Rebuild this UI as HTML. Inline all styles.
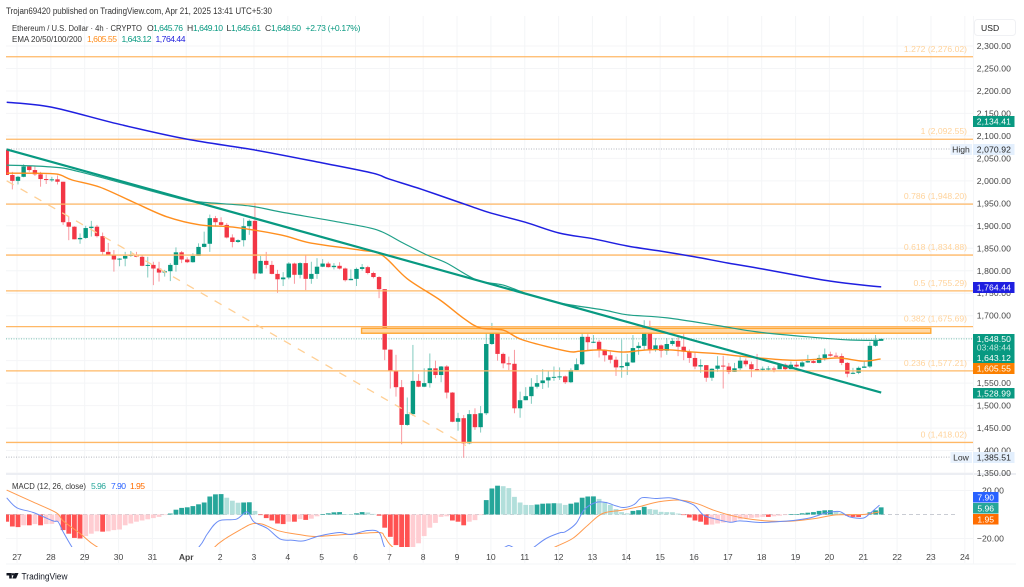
<!DOCTYPE html>
<html lang="en">
<head>
<meta charset="utf-8">
<title>Ethereum / U.S. Dollar 4h chart</title>
<style>
html,body{margin:0;padding:0;background:#fff;width:1024px;height:587px;overflow:hidden}
svg{display:block;font-family:"Liberation Sans",sans-serif}
text{font-family:"Liberation Sans",sans-serif}
</style>
</head>
<body>
<svg id="chart" xmlns="http://www.w3.org/2000/svg" width="1024" height="587" viewBox="0 0 1024 587">
  <defs>
    <clipPath id="mainClip"><rect x="6" y="16" width="967" height="457"/></clipPath>
    <clipPath id="macdClip"><rect x="6" y="476" width="967" height="71"/></clipPath>
  </defs>
  <g id="grid"></g>
  <g id="panes">
    <rect x="6" y="473" width="1010" height="2" fill="#eceef3"/>
    <rect x="6" y="563.5" width="1010" height="1" fill="#f3f4f7"/>
    <rect x="973" y="16" width="1" height="548" fill="#f5f6f8"/>
  </g>
  <g id="main" clip-path="url(#mainClip)"></g>
  <g id="macd" clip-path="url(#macdClip)"></g>
  <g id="axes"></g>

  <text x="6" y="14" font-size="8.9" fill="#333" textLength="266" lengthAdjust="spacingAndGlyphs">Trojan69420 published on TradingView.com, Apr 21, 2025 13:41 UTC+5:30</text>

  <g font-size="8.6">
    <text x="12" y="31" fill="#333" textLength="130" lengthAdjust="spacingAndGlyphs">Ethereum / U.S. Dollar · 4h · CRYPTO</text>
    <text x="147" y="31" fill="#333">O</text>
    <text x="153" y="31" fill="#089981" textLength="30">1,645.76</text>
    <text x="187" y="31" fill="#333">H</text>
    <text x="193" y="31" fill="#089981" textLength="30">1,649.10</text>
    <text x="226.500" y="31" fill="#333">L</text>
    <text x="231" y="31" fill="#089981" textLength="30">1,645.61</text>
    <text x="265" y="31" fill="#333">C</text>
    <text x="271" y="31" fill="#089981" textLength="30">1,648.50</text>
    <text x="305.500" y="31" fill="#089981" textLength="55">+2.73 (+0.17%)</text>
    <text x="12" y="42" fill="#333" textLength="70" lengthAdjust="spacingAndGlyphs">EMA 20/50/100/200</text>
    <text x="87" y="42" fill="#ff8c1a" textLength="30">1,605.55</text>
    <text x="121.500" y="42" fill="#089981" textLength="30">1,643.12</text>
    <text x="155.500" y="42" fill="#2222dd" textLength="30">1,764.44</text>
  </g>

  <g font-size="8.600">
    <text x="12" y="489" fill="#333" textLength="74" lengthAdjust="spacingAndGlyphs">MACD (12, 26, close)</text>
    <text x="91" y="489" fill="#26a69a" textLength="15">5.96</text>
    <text x="111" y="489" fill="#2962ff" textLength="15">7.90</text>
    <text x="130" y="489" fill="#ff6d00" textLength="15">1.95</text>
  </g>

  <g>
    <rect x="974.500" y="19.500" width="41" height="16" rx="3" fill="#fff" stroke="#f0f1f4"/>
    <text x="981" y="31" font-size="8.600" fill="#222">USD</text>
  </g>

  <g>
    <path d="M6.500 573h5.300v5.500h-2.600v-3h-2.700z M14.500 573h4l-2.400 5.500h-3.800z" fill="#131722"/>
    <circle cx="13" cy="574.300" r="1.200" fill="#131722"/>
    <text x="21.500" y="579.500" font-size="8.800" fill="#131722" textLength="46" lengthAdjust="spacingAndGlyphs">TradingView</text>
  </g>
</svg>

<script>
// ---------- Data ----------
const firstOpen = 2069;
const closes = [2013,2000,2009,2032,2024,2014.5,2004,2003,2003.4,1998,
1908,1898,1870,1873,1895,1898,1877,1842,1836,1825,
1827,1833,1836,1831,1811,1813,1805,1796,1799,1813,
1841,1825,1819,1833,1853,1860,1917,1908,1902,1874,
1864,1868,1899,1911,1794,1822,1813,1793,1781,1785,
1816,1791,1817,1782,1793,1809,1816,1808,1811,1805,
1779,1782,1804,1808,1795,1786,1759,1624.5,1578,1541,
1457,1481,1555,1542,1550,1583,1568,1587,1529,1464,
1472,1416,1481,1452,1483,1637,1667,1615,1594,1593,
1494,1512,1521,1542,1550,1556,1563,1564,1565,1552,
1579,1592,1653,1641,1642,1624,1612,1602,1585,1588,
1596,1628,1633,1674,1625,1634,1622,1637,1644,1631,
1620,1606,1587,1590,1562,1582,1589,1587,1575,1583,
1600,1592,1581,1580,1582,1582.5,1581,1591,1581,1591,
1587,1596,1599,1595,1606,1614,1611,1610,1595,1571,
1573,1584,1587,1633,1644,1648.5];
const highs = [2069,2020,2011,2037,2033,2034,2020,2014,2009,2012,
1998,1920,1899,1883,1900,1911,1902,1885,1862,1846,
1828,1842,1844,1842,1835,1831,1820,1820,1802,1817,
1852,1844,1830,1839,1861,1887,1925,1922,1919,1906,
1881,1870,1917,1914,1951,1833,1842,1822,1802,1797,
1819,1818,1819,1834,1820,1828,1826,1820,1817,1819,
1807,1803,1807,1815,1811,1798,1788,1759,1625,1613,
1557,1518,1635,1570,1583,1616,1600,1588,1590,1530,
1484,1479,1490,1494,1499,1668,1684,1670,1618,1609,
1624,1531,1541,1561,1568,1581,1578,1587,1585,1567,
1583,1605,1666,1659,1657,1646,1625,1620,1609,1647,
1615,1657,1641,1690,1689,1650,1636,1650,1650,1653,
1659,1625,1620,1603,1590,1583,1610,1611,1595,1595,
1610,1605,1598,1615,1587,1588,1587,1594,1594,1598,
1598,1599,1613,1603,1613,1627,1620,1618,1616,1597,
1584,1587,1598,1642,1657,1649.1];
const lows = [2013,1981,1992,2008,2020,2011,1987,1993,1998,1992,
1902,1868,1870,1860,1871,1876,1874,1834,1834,1798,
1810,1810,1831,1830,1810,1785,1768,1776,1787,1777,
1798,1817,1817,1818,1833,1852,1842,1898,1898,1872,
1852,1862,1854,1880,1781,1793,1805,1792,1751,1766,
1781,1771,1783,1757,1771,1782,1808,1807,1803,1803,
1776,1779,1766,1800,1792,1783,1739,1601,1538,1520,
1414,1455,1477,1541,1541,1540,1561,1552,1516,1463,
1444,1384,1414,1446,1440,1479,1635,1600,1583,1579,
1483,1473,1512,1504,1538,1537,1540,1555,1557,1548,
1550,1579,1590,1622,1639,1607,1598,1594,1566,1562,
1568,1595,1613,1624,1616,1620,1607,1613,1633,1610,
1601,1595,1581,1573,1553,1555,1575,1538,1570,1575,
1579,1587,1563,1578,1578,1577,1574,1581,1579,1581,
1585,1585,1595,1594,1594,1600,1609,1609,1590,1563,
1570,1570,1585,1584,1631,1645.6];

const ema20Bars = [1,5.7,9.9,12.6,17.5,23.4,29.4,35.3,41.1,49.5,54.8,63.6,67.5,72,77.8,81.9,84.9,89,92.5,100.3,102.6,106.2,110.3,114.5,118.6,122.7,127.5,131,139.9,145.7,148.7,152.8,155.9];
const ema20Values = [2017,2017,2015,2002,1986,1953,1920,1902,1897,1880,1862,1846,1835,1782,1735,1695,1673,1668,1646,1621,1621,1624,1619,1624,1624,1619,1615,1610,1601,1604,1606,1599,1604];
const ema50Bars = [1,8.7,14,31.2,35.3,44.1,49.5,60,66.6,71.2,75.5,79,84.4,89,93.8,99.1,106.7,111,118.1,127.5,134,143,150.5,156];
const ema50Values = [2035,2031,2020,1962,1953,1944,1931,1908,1891,1862,1835,1817,1779,1768,1746,1728,1713,1702,1695,1677,1664,1653,1646,1645];
const ema200Bars = [1,8.9,20.9,32.8,44.8,56.9,65.9,68.8,74.8,80.8,83.8,86.9,92.9,98.9,105,111,116.8,122.9,128.9,135,141,147,152.8,156];
const ema200Values = [2175,2164,2126,2093,2069,2040,2017,2004,1980,1954,1941,1928,1908,1884,1871,1855,1844,1831,1817,1804,1790,1777,1768,1764];

const trendBars = [1,156];
const trendValues = [2070,1529];
const fibDashBars = [1,82.4];
const fibDashValues = [2000,1411];
const zoneBars = [63.9,164.8];
const zoneValues = [1672,1661];

const fibRatios = ["1.272","1","0.786","0.618","0.5","0.382","0.236","0"];
const fibPrices = [2276.02,2092.55,1948.20,1834.88,1755.29,1675.69,1577.21,1418.02];
const fibPriceLabels = ["2,276.02","2,092.55","1,948.20","1,834.88","1,755.29","1,675.69","1,577.21","1,418.02"];

const macdHistogram = [-6,-10,-10.5,-9,-9,-8,-9,-8,-7.8,-6,
-13,-16,-19.5,-20,-18,-16,-14,-14.3,-14,-13,
-12.5,-9,-7.5,-6,-5,-4,-3,-2,-0.5,0.8,
4,5.5,6,7,8.5,10,15,16.8,17,14,
11.5,9.8,10,10.2,3,-0.3,-3,-5,-7.5,-8,
-6,-6,-3.8,-4.5,-3.5,-1.5,0.4,1,1.8,2,
0.3,0.2,1,2,1.7,0.5,-1,-11,-18.6,-25.5,
-30,-32,-28,-24,-18,-11,-7,-2,-1.5,-5,
-6,-9,-6,-4.7,-0.5,12,21.7,24,23.6,22,
14.7,10,8,7.9,8.3,9,9.2,9.4,9.3,8,
9,10,14,15,15.1,13,10.5,8,4.5,2,
1,3,3.6,6.4,4.5,4,2.2,2,1.9,0.8,
-0.3,-2.5,-5,-6,-8.5,-8.4,-7.5,-6.7,-6.4,-6,
-4,-3,-2.8,-2.5,-2,-2,-1.5,-1,-0.3,0.3,
0.3,1,1.5,2,3,3.5,3.6,2.2,1,-1,
-2,-2.1,-0.5,1.8,3.5,5.96];
const macdBars = [1,2.8,5.7,9.2,10.1,11,12.6,15,20,25,30,35,36.6,38.6,41.7,43.6,44.8,47.2,49.5,51.6,53.6,56.3,60,62,65,67,68,70,75,80,85,88,89.2,90,90.8,93,94.4,96.6,99,100,101.9,103.4,105.4,107.2,109,110.4,112.2,113.6,116,118.4,120.4,122.8,124.5,126.3,129.2,131,134.5,137.5,140.4,143.4,146.3,148.6,150.4,152.8,154,155.7];
const macdValues = [13.9,5.6,1.7,-5.3,-6,-14.4,-27.5,-45,-60,-60,-50,-27.5,-15.8,-5.3,-3.9,2.2,-6,-11.7,-20.5,-21.4,-22,-18,-15,-16.7,-13.3,-15,-27.5,-45,-65,-60,-45,-30,-27.5,-25.8,-27.5,-32,-27.5,-20,-15.3,-14.4,-7.5,4.2,10,10,7.2,5.8,8.3,14,13.3,13.9,12,7.8,-0.5,-3.3,-6.4,-5.3,-6.7,-6,-5,-2.8,1.4,2.5,-2,-3,0.8,7.8];
const signalBars = [1,5.7,9.8,11,14,17.2,25,35,37.8,39.8,42.8,44.5,46.3,49.2,52.8,55.7,60,62,67,68,69.5,75,85,95,98,101.3,104,106.6,110,113,116.6,120.4,123.4,126.3,129,132,135.7,139.8,144,148,152.8,155.7];
const signalValues = [20.3,10.3,1.4,-5.3,-15.8,-27.5,-45,-45,-27.5,-20,-11.7,-7.8,-8,-13.6,-16.7,-18.3,-17,-16.4,-15,-18.6,-27.5,-45,-50,-35,-27.5,-20,-8.9,0.8,3.6,6.4,10.6,12,9,3.6,-0.3,-3.3,-5.3,-5.6,-3.6,-0.3,0,2.2];

const priceTicks = [2300,2250,2200,2150,2100,2050,2000,1950,1900,1850,1800,1750,1700,1650,1600,1550,1500,1450,1400,1350];
const priceTickLabels = ["2,300.00","2,250.00","2,200.00","2,150.00","2,100.00","2,050.00","2,000.00","1,950.00","1,900.00","1,850.00","1,800.00","1,750.00","1,700.00",null,null,"1,550.00","1,500.00","1,450.00","1,400.00","1,350.00"];
const dayTicks = [0,1,2,3,4,5,6,7,8,9,10,11,12,13,14,15,16,17,18,19,20,21,22,23,24,25,26,27,28];
const dayTickLabels = ["27","28","29","30","31","Apr","2","3","4","5","6","7","8","9","10","11","12","13","14","15","16","17","18","19","20","21","22","23","24"];
const macdTicks = [20,-20];
const macdTickLabels = ["20.00","\u221220.00"];

const highPrice = 2070.92;
const lowPrice = 1385.51;
const lastPrice = 1648.50;

// ---------- Axis functions ----------
const NS = "http://www.w3.org/2000/svg";
const xDay = d => 17 + 33.85 * d;
const xBar = b => xDay((b - 1) / 6 - 0.304);
const yPrice = p => 46 + (2300 - p) * 0.4495;
const yMacd = v => 514.5 - v * 1.2;

function make(tag, attrs, parent, text) {
  const e = document.createElementNS(NS, tag);
  for (const k in attrs) e.setAttribute(k, attrs[k]);
  if (text !== undefined) e.textContent = text;
  parent.appendChild(e);
  return e;
}
function linePoints(bars, values, yFn) {
  return bars.map((b, i) => xBar(b).toFixed(1) + "," + yFn(values[i]).toFixed(1)).join(" ");
}
// Smooth path through the read points (Catmull-Rom to cubic Bezier).
function smoothPath(bars, values, yFn) {
  const p = bars.map((b, i) => [xBar(b), yFn(values[i])]);
  let d = "M" + p[0][0].toFixed(1) + " " + p[0][1].toFixed(1);
  for (let i = 0; i < p.length - 1; i++) {
    const a = p[Math.max(0, i - 1)], b = p[i], c = p[i + 1], e = p[Math.min(p.length - 1, i + 2)];
    const c1x = b[0] + (c[0] - a[0]) / 6, c1y = b[1] + (c[1] - a[1]) / 6;
    const c2x = c[0] - (e[0] - b[0]) / 6, c2y = c[1] - (e[1] - b[1]) / 6;
    d += "C" + c1x.toFixed(1) + " " + c1y.toFixed(1) + " " + c2x.toFixed(1) + " " + c2y.toFixed(1) + " " + c[0].toFixed(1) + " " + c[1].toFixed(1);
  }
  return d;
}

const grid = document.getElementById("grid");
const main = document.getElementById("main");
const macd = document.getElementById("macd");
const axes = document.getElementById("axes");

// ---------- Grid ----------
priceTicks.forEach(p => {
  const l = make("line", {x1: 6, x2: 973, y1: yPrice(p), y2: yPrice(p), stroke: "#f4f5f7", "stroke-width": 1}, grid);
  
  
});
macdTicks.forEach(v => {
  const l = make("line", {x1: 6, x2: 973, y1: yMacd(v), y2: yMacd(v), stroke: "#f4f5f7", "stroke-width": 1}, grid);
  
  
});
dayTicks.forEach(d => {
  const l = make("line", {x1: xDay(d), x2: xDay(d), y1: 16, y2: 563, stroke: "#f4f5f7", "stroke-width": 1}, grid);
  
  
});

// ---------- Reference dotted lines ----------
[[highPrice, "#b5b8c0", 'high-price-line', 955], [lowPrice, "#b5b8c0", 'low-price-line', 955], [lastPrice, "#7cc4b6", 'last-price-line', 973]].forEach(r => {
  const l = make("line", {x1: 6, x2: r[3], y1: yPrice(r[0]), y2: yPrice(r[0]), stroke: r[1], "stroke-width": 1, "stroke-dasharray": "1 1.5"}, main);
  
  
});

// ---------- Candles ----------
closes.forEach((c, i) => {
  const o = i === 0 ? firstOpen : closes[i - 1];
  const up = c >= o;
  const col = up ? "#089981" : "#f23645";
  const x = xBar(i + 1);
  const wick = make("line", {x1: x, x2: x, y1: yPrice(highs[i]), y2: yPrice(lows[i]), stroke: col, "stroke-width": 1, opacity: 0.5}, main);
  
  
  const top = yPrice(Math.max(o, c));
  const h = Math.max(1, Math.abs(yPrice(o) - yPrice(c)));
  const body = make("rect", {x: x - 2.2, y: top, width: 4.4, height: h, fill: col}, main);
  
  
});

// ---------- Fibonacci levels ----------
fibPrices.forEach((p, i) => {
  const l = make("line", {x1: 6, x2: 973, y1: yPrice(p), y2: yPrice(p), stroke: "#ffb866", "stroke-width": 1.3}, main);
  
  
  const t = make("text", {x: 967, y: yPrice(p) - 5, "text-anchor": "end", "font-size": 8.6, fill: "#ffd39b"}, main, fibRatios[i] + " (" + fibPriceLabels[i] + ")");
  
  
});

// ---------- Drawings ----------
const fibDash = make("polyline", {points: linePoints(fibDashBars, fibDashValues, yPrice), fill: "none", stroke: "#ffcf94", "stroke-width": 1.3, "stroke-dasharray": "8 8"}, main);



const zone = make("rect", {
  x: xBar(zoneBars[0]), width: xBar(zoneBars[1]) - xBar(zoneBars[0]),
  y: yPrice(zoneValues[0]), height: yPrice(zoneValues[1]) - yPrice(zoneValues[0]),
  fill: "#ffd9a8", stroke: "#ffa733", "stroke-width": 1.4}, main);



// ---------- EMAs ----------
const ema200 = make("path", {d: smoothPath(ema200Bars, ema200Values, yPrice), fill: "none", stroke: "#1f1fe0", "stroke-width": 1.5}, main);


const ema50 = make("path", {d: smoothPath(ema50Bars, ema50Values, yPrice), fill: "none", stroke: "#1fa088", "stroke-width": 1.2}, main);


const ema20 = make("path", {d: smoothPath(ema20Bars, ema20Values, yPrice), fill: "none", stroke: "#ff8f1f", "stroke-width": 1.4}, main);


const trend = make("polyline", {points: linePoints(trendBars, trendValues, yPrice), fill: "none", stroke: "#089981", "stroke-width": 2.2}, main);



// ---------- MACD pane ----------
const zeroLine = make("line", {x1: 6, x2: 955, y1: yMacd(0), y2: yMacd(0), stroke: "#c9ccd3", "stroke-width": 1, "stroke-dasharray": "4 3"}, macd);


macdHistogram.forEach((v, i) => {
  const prev = i === 0 ? 0 : macdHistogram[i - 1];
  const col = v >= 0 ? (v >= prev ? "#26a69a" : "#b2dfdb") : (v <= prev ? "#ff5252" : "#ffcdd2");
  const y0 = yMacd(0), y1 = yMacd(v);
  const bar = make("rect", {x: xBar(i + 1) - 2.4, y: Math.min(y0, y1), width: 4.8, height: Math.max(0.6, Math.abs(y1 - y0)), fill: col}, macd);
  
  
});
const signalLine = make("path", {d: smoothPath(signalBars, signalValues, yMacd), fill: "none", stroke: "#ff9a4d", "stroke-width": 1}, macd);


const macdLine = make("path", {d: smoothPath(macdBars, macdValues, yMacd), fill: "none", stroke: "#6b8df5", "stroke-width": 1}, macd);



// ---------- Axis labels ----------
priceTicks.forEach((p, i) => {
  if (!priceTickLabels[i]) return;
  const t = make("text", {x: 1011, y: yPrice(p) + 3, "text-anchor": "end", "font-size": 8.6, "letter-spacing": 0.1, fill: "#444"}, axes, priceTickLabels[i]);
  
  
});
macdTicks.forEach((v, i) => {
  const t = make("text", {x: 1004, y: yMacd(v) + 3, "text-anchor": "end", "font-size": 8.6, "letter-spacing": 0.1, fill: "#444"}, axes, macdTickLabels[i]);
  
  
});
dayTicks.forEach((d, i) => {
  const isMonth = dayTickLabels[i] === "Apr";
  const t = make("text", {x: xDay(d), y: 560, "text-anchor": "middle", "font-size": 8.6, "font-weight": isMonth ? "bold" : "normal", fill: "#444"}, axes, dayTickLabels[i]);
  
  
});

// ---------- Price tags ----------
const tagBoxes = [
  ["price-tag-ema-200-projection", 116, 11, "#089981", "2,134.41", "#fff"],
  ["price-tag-high", 144, 11, "#e3effd", "2,070.92", "#222"],
  ["price-tag-ema-200", 282, 11, "#1f1fe0", "1,764.44", "#fff"],
  ["price-tag-trendline", 388, 10.5, "#089981", "1,528.99", "#fff"],
  ["price-tag-low", 452, 11, "#e3effd", "1,385.51", "#222"]
];
tagBoxes.forEach(b => {
  const r = make("rect", {x: 973, y: b[1], width: 41.5, height: b[2], fill: b[3]}, axes);
  
  
  const t = make("text", {x: 1011, y: b[1] + b[2] / 2 + 3, "text-anchor": "end", "font-size": 8.6, "letter-spacing": 0.1, fill: b[5]}, axes, b[4]);
  
  
});
const lastBlock = make("rect", {x: 973, y: 334, width: 41.5, height: 29, fill: "#089981"}, axes);


[["1,648.50", 342, "#fff", 'last-price-text'], ["03:48:44", 350.5, "#bfe6dd", 'bar-countdown-text'], ["1,643.12", 361, "#fff", 'ema-50-tag-text']].forEach(r => {
  const t = make("text", {x: 1011, y: r[1], "text-anchor": "end", "font-size": 8.6, "letter-spacing": 0.1, fill: r[2]}, axes, r[0]);
  
  
});
const ema20Tag = make("rect", {x: 973, y: 363, width: 41.5, height: 11, fill: "#fb8000"}, axes);


const ema20TagText = make("text", {x: 1011, y: 371.5, "text-anchor": "end", "font-size": 8.6, "letter-spacing": 0.1, fill: "#fff"}, axes, "1,605.55");



[["High", 144, 'high-badge'], ["Low", 452, 'low-badge']].forEach(r => {
  const box = make("rect", {x: 950.5, y: r[1], width: 21.5, height: 11, fill: "#e9f2fd"}, axes);
  
  
  const t = make("text", {x: 961, y: r[1] + 8.5, "text-anchor": "middle", "font-size": 8.6, fill: "#333"}, axes, r[0]);
  
  
});

[["7.90", 492, "#2962ff", 'macd-line-tag'], ["5.96", 503, "#26a69a", 'macd-histogram-tag'], ["1.95", 514, "#ff6d00", 'macd-signal-tag']].forEach(r => {
  const box = make("rect", {x: 973, y: r[1], width: 25.5, height: 10.5, fill: r[2]}, axes);
  
  
  const t = make("text", {x: 985.7, y: r[1] + 8.3, "text-anchor": "middle", "font-size": 8.6, fill: "#fff"}, axes, r[0]);
  
  
});
</script>
</body>
</html>
